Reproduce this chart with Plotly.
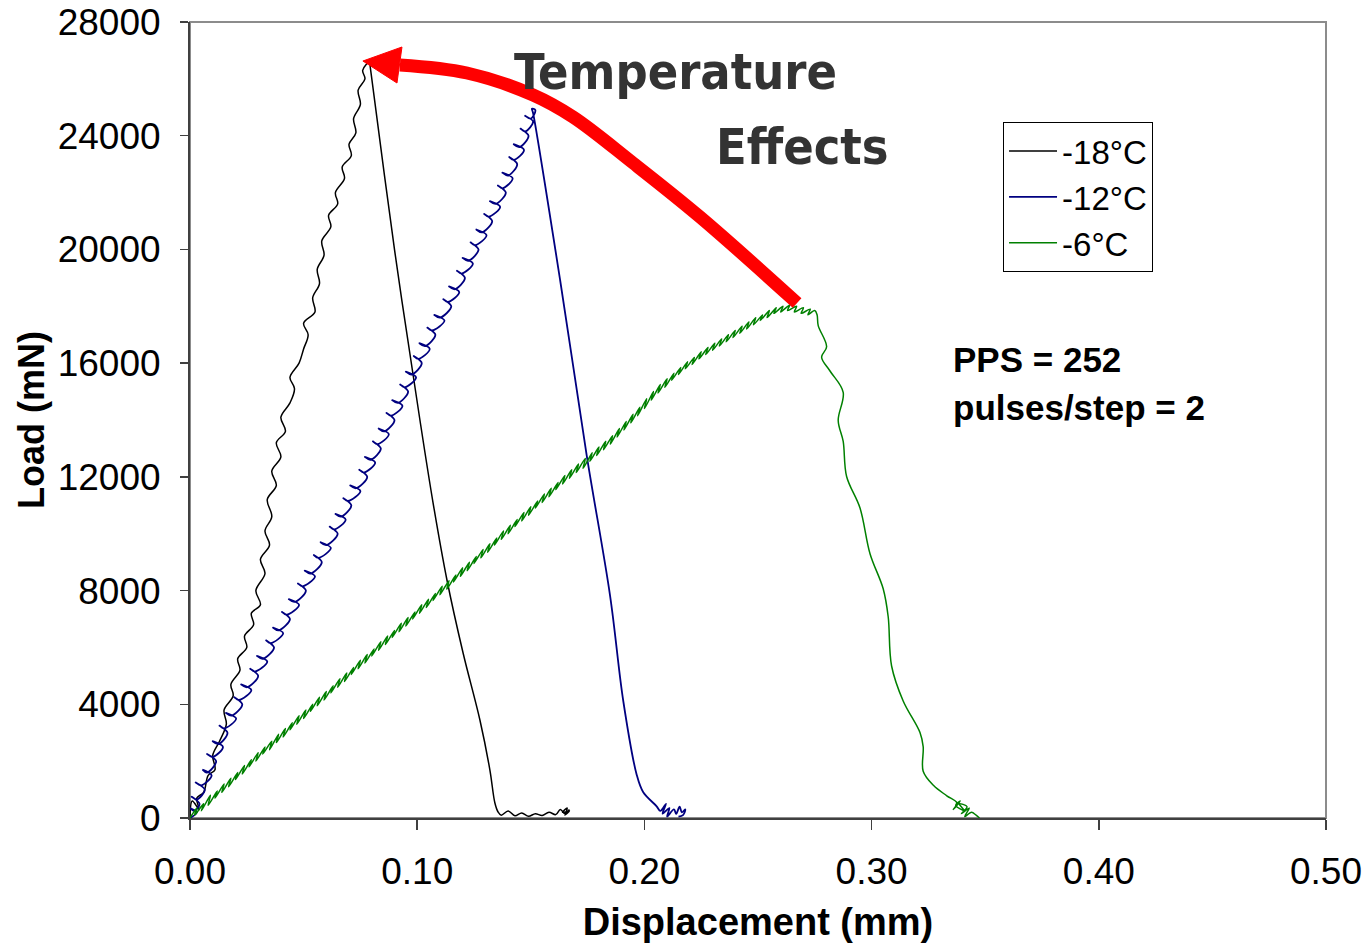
import plotly.graph_objects as go

# ---------------- data ----------------
# -18 °C
m18_rise_disp = [0.000, 0.001, 0.004, 0.003, 0.006, 0.008, 0.011, 0.010, 0.013, 0.016,
                 0.015, 0.019, 0.018, 0.022, 0.021, 0.025, 0.024, 0.028, 0.027, 0.031,
                 0.029, 0.033, 0.031, 0.035, 0.033, 0.036, 0.034, 0.038, 0.036, 0.040,
                 0.038, 0.042, 0.040, 0.044, 0.046, 0.044, 0.048, 0.050, 0.052, 0.050,
                 0.055, 0.054, 0.057, 0.056, 0.059, 0.058, 0.062, 0.061, 0.065, 0.064,
                 0.068, 0.067, 0.071, 0.070, 0.073, 0.072, 0.075, 0.074, 0.077, 0.076,
                 0.079]
m18_rise_load = [0, 600, 300, 700, 900, 1500, 1700, 2200, 2700, 3300,
                 3800, 4300, 4700, 5200, 5600, 6000, 6400, 6800, 7200, 7500,
                 8000, 8600, 9100, 9600, 10100, 10600, 11200, 11700, 12200, 12700,
                 13200, 13600, 14100, 14600, 15100, 15500, 16000, 16500, 17000, 17400,
                 17800, 18300, 18800, 19300, 19800, 20300, 20800, 21200, 21600, 22000,
                 22500, 22900, 23300, 23700, 24100, 24600, 25100, 25600, 26000, 26300,
                 26600]
m18_fall_disp = [0.0792, 0.0900, 0.1012, 0.1070, 0.1131, 0.1202, 0.1276, 0.1320, 0.1342, 0.1356]
m18_fall_load = [26500, 20000, 14000, 11080, 8372, 5804, 3447, 1688, 528, 211]
m18_tail_disp = [0.137, 0.140, 0.143, 0.146, 0.149, 0.152, 0.155, 0.158, 0.161, 0.163,
                 0.165, 0.166, 0.164, 0.167, 0.165, 0.167]
m18_tail_load = [100, 250, 80, 180, 60, 150, 90, 200, 120, 300,
                 150, 350, 200, 250, 100, 300]

# -12 °C
m12_rise_disp = [0.000, 0.003, 0.000, 0.002,
                 0.0042, 0.0007, 0.0030,  0.0065, 0.0025, 0.0050,  0.0095, 0.0055, 0.0075,
                 0.0115, 0.0075, 0.0100,  0.0145, 0.0100, 0.0125,  0.0165, 0.0130, 0.0150,
                 0.0203, 0.0158, 0.0183,  0.0230, 0.0195, 0.0215,  0.0270, 0.0225, 0.0250,
                 0.0300, 0.0265, 0.0285,  0.0340, 0.0295, 0.0320,  0.0370, 0.0335, 0.0355,
                 0.0410, 0.0365, 0.0390,  0.0440, 0.0405, 0.0425,  0.0480, 0.0435, 0.0460,
                 0.0510, 0.0475, 0.0495,  0.0550, 0.0505, 0.0530,  0.0580, 0.0545, 0.0565,
                 0.0620, 0.0575, 0.0600,  0.0650, 0.0615, 0.0635,  0.0685, 0.0640, 0.0665,
                 0.0710, 0.0675, 0.0695,  0.0750, 0.0705, 0.0730,  0.0780, 0.0745, 0.0765,
                 0.0815, 0.0770, 0.0795,  0.0840, 0.0805, 0.0825,  0.0875, 0.0830, 0.0855,
                 0.0900, 0.0865, 0.0885,  0.0935, 0.0890, 0.0915,  0.0960, 0.0925, 0.0945,
                 0.0995, 0.0950, 0.0975,  0.1020, 0.0985, 0.1005,  0.1055, 0.1010, 0.1035,
                 0.1080, 0.1045, 0.1065,  0.1120, 0.1075, 0.1100,  0.1150, 0.1115, 0.1135,
                 0.1185, 0.1140, 0.1165,  0.1210, 0.1175, 0.1195,  0.1245, 0.1200, 0.1225,
                 0.1270, 0.1235, 0.1255,  0.1305, 0.1260, 0.1285,  0.1330, 0.1295, 0.1315,
                 0.1365, 0.1320, 0.1345,  0.1390, 0.1355, 0.1375,  0.1420, 0.1375, 0.1400,
                 0.1440, 0.1405, 0.1425,  0.1470, 0.1425, 0.1450,  0.1490, 0.1455, 0.1475,
                 0.1510, 0.1475, 0.1500,
                 0.1520, 0.1505, 0.1510]
m12_rise_load = [0, 200, 350, 250,
                 500, 750, 650,  1000, 1250, 1150,  1500, 1700, 1600,
                 2000, 2250, 2150,  2500, 2700, 2600,  3000, 3250, 3150,
                 3500, 3700, 3600,  4000, 4250, 4150,  4500, 4700, 4600,
                 5000, 5250, 5150,  5500, 5700, 5600,  6000, 6250, 6150,
                 6500, 6700, 6600,  7000, 7250, 7150,  7500, 7700, 7600,
                 8000, 8250, 8150,  8500, 8700, 8600,  9000, 9250, 9150,
                 9500, 9700, 9600,  10000, 10250, 10150,  10500, 10700, 10600,
                 11000, 11250, 11150,  11500, 11700, 11600,  12000, 12250, 12150,
                 12500, 12700, 12600,  13000, 13250, 13150,  13500, 13700, 13600,
                 14000, 14250, 14150,  14500, 14700, 14600,  15000, 15250, 15150,
                 15500, 15700, 15600,  16000, 16250, 16150,  16500, 16700, 16600,
                 17000, 17250, 17150,  17500, 17700, 17600,  18000, 18250, 18150,
                 18500, 18700, 18600,  19000, 19250, 19150,  19500, 19700, 19600,
                 20000, 20250, 20150,  20500, 20700, 20600,  21000, 21250, 21150,
                 21500, 21700, 21600,  22000, 22250, 22150,  22500, 22700, 22600,
                 23000, 23250, 23150,  23500, 23700, 23600,  24000, 24250, 24150,
                 24500, 24700, 24600,
                 24900, 24950, 24800]
m12_fall_disp = [0.1629, 0.1746, 0.1849, 0.1907, 0.1966, 0.1995, 0.2054]
m12_fall_load = [18925, 12755, 7816, 4116, 1523, 904, 412]
m12_tail_disp = [0.2070, 0.2095, 0.2080, 0.2110, 0.2100, 0.2130, 0.2140, 0.2155, 0.2165, 0.2180, 0.2170, 0.2150]
m12_tail_load = [250, 500, 150, 350, 50, 300, 150, 400, 200, 300, 100, 50]

# -6 °C
m6_rise_disp = [0.000, 0.003, 0.002, 0.006, 0.005, 0.009, 0.008, 0.012, 0.011, 0.015,
                0.014, 0.018, 0.017, 0.021, 0.020, 0.024, 0.023, 0.027, 0.026, 0.030,
                0.029, 0.033, 0.032, 0.036, 0.035, 0.039, 0.038, 0.042, 0.041, 0.045,
                0.044, 0.048, 0.047, 0.051, 0.050, 0.054, 0.053, 0.057, 0.056, 0.060,
                0.059, 0.063, 0.062, 0.066, 0.065, 0.069, 0.068, 0.072, 0.071, 0.075,
                0.074, 0.078, 0.077, 0.081, 0.080, 0.084, 0.083, 0.087, 0.086, 0.090,
                0.089, 0.093, 0.092, 0.096, 0.095, 0.099, 0.098, 0.102, 0.101, 0.105,
                0.104, 0.108, 0.107, 0.111, 0.110, 0.114, 0.113, 0.117, 0.116, 0.120,
                0.119, 0.123, 0.122, 0.126, 0.125, 0.129, 0.128, 0.132, 0.131, 0.135,
                0.134, 0.138, 0.137, 0.141, 0.140, 0.144, 0.143, 0.147, 0.146, 0.150,
                0.149, 0.153, 0.152, 0.156, 0.155, 0.159, 0.158, 0.162, 0.161, 0.165,
                0.164, 0.168, 0.167, 0.171, 0.170,
                0.174, 0.173, 0.177, 0.176, 0.180, 0.179, 0.183, 0.182, 0.186, 0.185,
                0.189, 0.188, 0.192, 0.191, 0.195, 0.194, 0.198, 0.197, 0.201, 0.200,
                0.204, 0.203, 0.207, 0.206, 0.210, 0.209, 0.213, 0.212, 0.216, 0.215,
                0.219, 0.218, 0.222, 0.221, 0.225, 0.224, 0.228, 0.227, 0.231, 0.230,
                0.234, 0.233, 0.237, 0.236, 0.240, 0.239, 0.243, 0.242, 0.246, 0.245,
                0.249, 0.248, 0.252, 0.251, 0.255, 0.254, 0.258, 0.257, 0.261, 0.260,
                0.264, 0.263, 0.267, 0.266, 0.270, 0.269, 0.273, 0.272, 0.275, 0.276]
m6_rise_load = [0, 350, 100, 500, 250, 800, 450, 950, 700, 1200,
                900, 1400, 1100, 1600, 1350, 1850, 1550, 2050, 1800, 2300,
                2000, 2500, 2250, 2700, 2400, 2950, 2650, 3150, 2850, 3350,
                3100, 3600, 3300, 3800, 3500, 4000, 3750, 4250, 3950, 4450,
                4150, 4650, 4400, 4900, 4600, 5100, 4800, 5300, 5050, 5550,
                5250, 5750, 5450, 5950, 5700, 6200, 5900, 6400, 6100, 6600,
                6350, 6850, 6550, 7050, 6750, 7250, 7000, 7500, 7200, 7700,
                7400, 7900, 7650, 8150, 7850, 8350, 8050, 8550, 8300, 8800,
                8500, 9000, 8700, 9200, 8950, 9450, 9150, 9650, 9350, 9850,
                9600, 10100, 9800, 10300, 10000, 10500, 10250, 10750, 10450, 10950,
                10650, 11150, 10900, 11400, 11100, 11600, 11300, 11800, 11550, 12050,
                11750, 12250, 11950, 12450, 12150,
                12650, 12300, 12850, 12550, 13050, 12750, 13250, 12950, 13450, 13150,
                13700, 13400, 13950, 13650, 14200, 13900, 14450, 14150, 14750, 14400,
                15000, 14700, 15250, 14950, 15450, 15150, 15650, 15400, 15850, 15600,
                16050, 15800, 16200, 15950, 16400, 16150, 16550, 16300, 16700, 16450,
                16850, 16600, 17000, 16750, 17150, 16900, 17300, 17050, 17450, 17200,
                17600, 17350, 17700, 17500, 17850, 17600, 17950, 17750, 18000, 17800,
                18050, 17850, 18000, 17800, 17950, 17750, 17900, 17700, 17850, 17700]
m6_fall_disp = [0.2765, 0.2802, 0.2780, 0.2817, 0.2875, 0.2853, 0.2875, 0.2890, 0.2949, 0.2993,
                0.3051, 0.3073, 0.3088, 0.3139, 0.3213, 0.3227, 0.3227, 0.3272, 0.3331, 0.3375]
m6_fall_load = [17321, 16578, 16209, 15724, 14975, 13986, 13248, 12013, 10905, 9297,
                8062, 7078, 5347, 4116, 3004, 2508, 1646, 1150, 781, 535]
m6_tail_disp = [0.3360, 0.3390, 0.3370, 0.3410, 0.3385, 0.3420, 0.3395, 0.3430, 0.3410, 0.3440, 0.3460, 0.3475]
m6_tail_load = [300, 600, 450, 250, 500, 400, 150, 350, 50, 200, 100, 0]

series_names = ["-18°C", "-12°C", "-6°C"]
series_colors = ["#000000", "#000080", "#008000"]
series_widths = [1.5, 1.8, 1.5]

# red "temperature effects" arrow (data coordinates)
arrow_disp = [0.2672, 0.2245, 0.1950, 0.1686, 0.1510, 0.1219, 0.0924]
arrow_load = [18116, 21141, 23040, 24658, 25432, 26206, 26488]
arrowhead_disp = [0.0761, 0.0933, 0.0911]
arrowhead_load = [26628, 27121, 25854]

x_ticks = [0.0, 0.1, 0.2, 0.3, 0.4, 0.5]
y_ticks = [0, 4000, 8000, 12000, 16000, 20000, 24000, 28000]

# ---------------- build ----------------
series = [
    (m18_rise_disp + m18_fall_disp + m18_tail_disp, m18_rise_load + m18_fall_load + m18_tail_load),
    (m12_rise_disp + m12_fall_disp + m12_tail_disp, m12_rise_load + m12_fall_load + m12_tail_load),
    (m6_rise_disp + m6_fall_disp + m6_tail_disp, m6_rise_load + m6_fall_load + m6_tail_load),
]
for xs, ys in series:
    assert len(xs) == len(ys), (len(xs), len(ys))

FONT = "Liberation Sans, Arial, sans-serif"

fig = go.Figure()
for (xs, ys), name, col, w in zip(series, series_names, series_colors, series_widths):
    fig.add_trace(go.Scatter(x=xs, y=ys, mode="lines", name=name,
                             line=dict(color=col, width=w, shape="spline", smoothing=1.0),
                             hoverinfo="skip"))

fig.add_trace(go.Scatter(x=arrow_disp, y=arrow_load, mode="lines", showlegend=False,
                         line=dict(color="#ff0000", width=13, shape="spline"), hoverinfo="skip"))

head_path = "M {} {} L {} {} L {} {} Z".format(
    arrowhead_disp[0], arrowhead_load[0], arrowhead_disp[1], arrowhead_load[1],
    arrowhead_disp[2], arrowhead_load[2])
fig.add_shape(type="path", path=head_path, xref="x", yref="y",
              fillcolor="#ff0000", line=dict(color="#ff0000", width=1), layer="above")

# plot-area frame (grey) on top / right
fig.add_shape(type="rect", xref="paper", yref="paper", x0=0, y0=0, x1=1, y1=1,
              line=dict(color="#8c8c8c", width=2), layer="below")

title_font = dict(family="Liberation Sans Narrow, DejaVu Sans Condensed, Arial Narrow, sans-serif",
                  size=50, color="#333333")
fig.add_annotation(x=0.2135, y=26241, xref="x", yref="y", text="<b>Temperature</b>",
                   showarrow=False, font=title_font, xanchor="center", yanchor="middle")
fig.add_annotation(x=0.2694, y=23603, xref="x", yref="y", text="<b>Effects</b>",
                   showarrow=False, font=title_font, xanchor="center", yanchor="middle")

note_font = dict(family=FONT, size=35, color="#000000")
fig.add_annotation(x=0.3349, y=16111, xref="x", yref="y", text="<b>PPS = 252</b>",
                   showarrow=False, font=note_font, xanchor="left", yanchor="middle")
fig.add_annotation(x=0.3349, y=14457, xref="x", yref="y", text="<b>pulses/step = 2</b>",
                   showarrow=False, font=note_font, xanchor="left", yanchor="middle")

fig.update_layout(
    width=1369, height=944,
    margin=dict(l=190, r=43, t=22, b=126),
    paper_bgcolor="white", plot_bgcolor="white",
    font=dict(family=FONT, size=35, color="#000000"),
    showlegend=True,
    legend=dict(x=0.7157, y=0.8744, xanchor="left", yanchor="top",
                bgcolor="white", bordercolor="#000000", borderwidth=1,
                font=dict(family=FONT, size=33, color="#000000"),
                itemwidth=48, tracegroupgap=0),
)
fig.update_xaxes(range=[0, 0.5], tickvals=x_ticks, tickformat=".2f",
                 showgrid=False, zeroline=False, automargin=False,
                 showline=True, linecolor="#404040", linewidth=2,
                 ticks="outside", ticklen=10, tickwidth=1.5, tickcolor="#404040",
                 tickfont=dict(family=FONT, size=37), ticklabelstandoff=10,
                 ticklabeloverflow="allow",
                 title=dict(text="<b>Displacement (mm)</b>", font=dict(family=FONT, size=38),
                            standoff=17))
fig.update_yaxes(range=[0, 28000], tickvals=y_ticks, tickformat="d",
                 showgrid=False, zeroline=False, automargin=False,
                 showline=True, linecolor="#404040", linewidth=2,
                 ticks="outside", ticklen=8, tickwidth=1.5, tickcolor="#404040",
                 tickfont=dict(family=FONT, size=37), ticklabelstandoff=12,
                 ticklabeloverflow="allow",
                 title=dict(text="<b>Load (mN)</b>", font=dict(family=FONT, size=36),
                            standoff=2))

# remove the default 8px page margin so the figure fills the window exactly
fig.write_html("out.html",
               config={"displayModeBar": False, "staticPlot": True},
               post_script="document.body.style.margin='0';document.body.style.overflow='hidden';")
